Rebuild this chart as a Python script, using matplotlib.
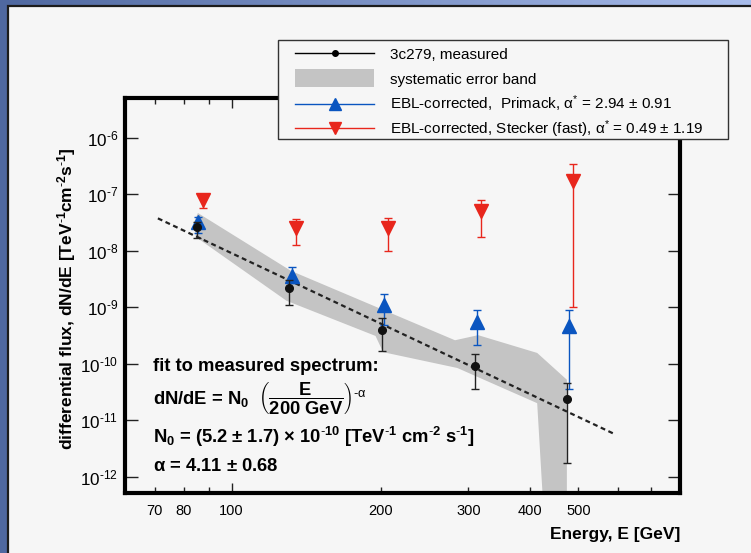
import numpy as np
import matplotlib
matplotlib.use("Agg")
import matplotlib.pyplot as plt
from matplotlib.patches import Rectangle, Patch
from matplotlib.lines import Line2D
from matplotlib.legend_handler import HandlerPatch
from matplotlib.ticker import FixedLocator, FixedFormatter, NullLocator

plt.rcParams["font.family"] = ["Liberation Sans", "DejaVu Sans"]
plt.rcParams["mathtext.fontset"] = "custom"
plt.rcParams["mathtext.rm"] = "Liberation Sans"
plt.rcParams["mathtext.it"] = "Liberation Sans:italic"
plt.rcParams["mathtext.bf"] = "Liberation Sans:bold"
plt.rcParams["mathtext.default"] = "regular"

# measured 3c279 spectrum (GeV, TeV^-1 cm^-2 s^-1)
E_meas = [85.0, 130.7, 201.2, 309.4, 474.3]
F_meas = [2.6e-8, 2.16e-9, 3.95e-10, 9.2e-11, 2.37e-11]
F_meas_hi = [3.26e-8, 3.03e-9, 6.4e-10, 1.47e-10, 4.5e-11]
F_meas_lo = [1.66e-8, 1.09e-9, 1.68e-10, 3.5e-11, 1.73e-12]

# EBL corrected, Primack
E_prim = [85.6, 132.5, 203.1, 311.9, 479.3]
F_prim = [3.26e-8, 3.56e-9, 1.09e-9, 5.5e-10, 4.65e-10]
F_prim_hi = [3.9e-8, 5.2e-9, 1.71e-9, 8.9e-10, 8.9e-10]
F_prim_lo = [2.1e-8, 2.7e-9, 4.8e-10, 2.15e-10, 3.56e-11]

# EBL corrected, Stecker (fast)
E_steck = [87.4, 134.6, 206.6, 317.7, 488.2]
F_steck = [7.9e-8, 2.49e-8, 2.49e-8, 5.05e-8, 1.73e-7]
F_steck_hi = [9.5e-8, 3.64e-8, 3.84e-8, 7.9e-8, 3.4e-7]
F_steck_lo = [5.6e-8, 1.26e-8, 9.9e-9, 1.73e-8, 1.02e-9]

# systematic error band outline
band_E = [84.0, 85.5, 131.7, 282.0, 314.0, 413.0, 474.0, 474.0,
          424.0, 413.0, 285.0, 202.0, 195.0, 129.0, 84.7]
band_F = [3.2e-8, 4.65e-8, 4.4e-9, 2.6e-10, 3.2e-10, 1.55e-10, 5.2e-11, 4e-13,
          4e-13, 2.0e-11, 8.4e-11, 1.6e-10, 3.1e-10, 1.3e-9, 1.75e-8]

# power-law fit line end points
E_fit = [71.0, 587.0]
F_fit = [3.74e-8, 5.86e-12]

ytick_vals = [1e-12, 1e-11, 1e-10, 1e-9, 1e-8, 1e-7, 1e-6]
ytick_labels = [r"$10^{\text{-}12}$", r"$10^{\text{-}11}$", r"$10^{\text{-}10}$",
                r"$10^{\text{-}9}$", r"$10^{\text{-}8}$", r"$10^{\text{-}7}$",
                r"$10^{\text{-}6}$"]
xminor_vals = [70, 80, 90, 200, 300, 400, 500, 600, 700]
xminor_labels = ["70", "80", "", "200", "300", "400", "500", "", ""]

blue = "#0a55c0"
red = "#e8261c"
band_col = "#c4c4c4"
bg = "#f6f6f6"

W, H = 751, 553
fig = plt.figure(figsize=(W / 100, H / 100), dpi=100)

# slide-like background: blue gradient with light panel
bga = fig.add_axes([0, 0, 1, 1], zorder=-5)
grad = np.linspace(0, 1, 256).reshape(1, -1)
bga.imshow(grad, aspect="auto", extent=[0, 1, 0, 1],
           cmap=matplotlib.colors.LinearSegmentedColormap.from_list("b", ["#4f68a0", "#a9bdec"]))
bga.add_patch(Rectangle((8 / W, -0.1), 1.2, 1 - 6 / H + 0.1, facecolor=bg,
                        edgecolor="#1c1c1c", lw=1.6))
bga.set_xlim(0, 1)
bga.set_ylim(0, 1)
bga.axis("off")

ax = fig.add_axes([125 / W, 1 - 493.3 / H, (680 - 125) / W, (493.3 - 98) / H])
ax.set_facecolor(bg)
ax.set_xscale("log")
ax.set_yscale("log")

ax.fill(band_E, band_F, color=band_col, lw=0, zorder=1)
ax.plot(E_fit, F_fit, ls=(0, (2.2, 1.6)), color="#222222", lw=1.6, zorder=2)

def err(f, hi, lo):
    f = np.array(f)
    return [f - np.array(lo), np.array(hi) - f]

ax.errorbar(E_steck, F_steck, yerr=err(F_steck, F_steck_hi, F_steck_lo), fmt="v",
            color=red, ms=9.5, elinewidth=1.0, capsize=2.6, capthick=1.0, zorder=3)
ax.errorbar(E_prim, F_prim, yerr=err(F_prim, F_prim_hi, F_prim_lo), fmt="^",
            color=blue, ms=9.5, elinewidth=1.0, capsize=2.6, capthick=1.0, zorder=4)
ax.errorbar(E_meas, F_meas, yerr=err(F_meas, F_meas_hi, F_meas_lo), fmt="o",
            color="#111111", ecolor="#222222", ms=5.5, elinewidth=1.0, capsize=2.6,
            capthick=1.0, zorder=5)

ax.set_xlim(60.95, 801.4)
ax.set_ylim(5.08e-13, 5.05e-6)

ax.yaxis.set_major_locator(FixedLocator(ytick_vals))
ax.yaxis.set_major_formatter(FixedFormatter(ytick_labels))
ax.yaxis.set_minor_locator(NullLocator())
ax.xaxis.set_major_locator(FixedLocator([100]))
ax.xaxis.set_major_formatter(FixedFormatter(["100"]))
ax.xaxis.set_minor_locator(FixedLocator(xminor_vals))
ax.xaxis.set_minor_formatter(FixedFormatter(xminor_labels))

ax.tick_params(axis="y", which="major", direction="in", length=9, width=1.0,
               left=True, right=True, labelsize=12.3, pad=5, color="#222222")
ax.tick_params(axis="x", which="major", direction="in", length=7.5, width=1.0,
               top=True, bottom=True, labelsize=10.5, pad=8, color="#222222")
ax.tick_params(axis="x", which="minor", direction="in", length=4, width=1.0,
               top=True, bottom=True, labelsize=10.5, pad=8, color="#222222")
for s in ax.spines.values():
    s.set_linewidth(3.0)
    s.set_color("black")

# fit annotation
tx = 0.05
ax.text(tx, 0.320, "fit to measured spectrum:", transform=ax.transAxes,
        fontsize=13.2, fontweight="bold", va="center")
ax.text(tx, 0.241, r"dN/dE = N$_0$  $\left(\dfrac{E}{200\ GeV}\right)^{\mathrm{\text{-}\alpha}}$",
        transform=ax.transAxes, fontsize=13.2, fontweight="bold", va="center")
ax.text(tx, 0.143, r"N$_0$ = (5.2 $\pm$ 1.7) $\times$ 10$^{\text{-}10}$ [TeV$^{\text{-}1}$ cm$^{\text{-}2}$ s$^{\text{-}1}$]",
        transform=ax.transAxes, fontsize=13.2, fontweight="bold", va="center")
ax.text(tx, 0.067, r"$\alpha$ = 4.11 $\pm$ 0.68", transform=ax.transAxes,
        fontsize=13.2, fontweight="bold", va="center")

fig.text(680 / W, 1 - 535 / H, "Energy, E [GeV]", ha="right", va="center",
         fontsize=12.5, fontweight="bold")
fig.text(67 / W, 1 - 299 / H,
         r"differential flux, dN/dE [TeV$^{\text{-}1}$cm$^{\text{-}2}$s$^{\text{-}1}$]",
         rotation=90, ha="center", va="center", fontsize=12.5, fontweight="bold")


# legend: box drawn by hand, one row per entry so rows are evenly spaced
def band_handle(legend, orig_handle, xdescent, ydescent, width, height, fontsize):
    return Rectangle((-xdescent, -ydescent - 0.2 * height), width, 1.4 * height)


handles = [
    Line2D([], [], color="black", lw=1.0, marker="o", ms=4),
    Patch(facecolor=band_col, edgecolor="none"),
    Line2D([], [], color=blue, lw=1.0, marker="^", ms=9),
    Line2D([], [], color=red, lw=1.0, marker="v", ms=9),
]
labels = [
    "3c279, measured",
    "systematic error band",
    r"EBL-corrected,  Primack, $\alpha^{*}$ = 2.94 $\pm$ 0.91",
    r"EBL-corrected, Stecker (fast), $\alpha^{*}$ = 0.49 $\pm$ 1.19",
]
fig.add_artist(Rectangle((278.3 / W, 1 - 139.3 / H), (728.3 - 278.3) / W, (139.3 - 40) / H,
                         transform=fig.transFigure, facecolor=bg, edgecolor="#333333",
                         lw=1.0, zorder=8))
for i, (h, lab) in enumerate(zip(handles, labels)):
    leg = fig.legend([h], [lab], loc="center left",
                     bbox_to_anchor=(295 / W, 1 - (54.2 + 25 * i) / H),
                     frameon=False, fontsize=11, borderpad=0, borderaxespad=0,
                     handlelength=5.2, handletextpad=1.0, handleheight=0.9,
                     handler_map={Patch: HandlerPatch(patch_func=band_handle)})
    leg.set_zorder(9)

fig.savefig("out.png", dpi=100, facecolor=fig.get_facecolor())
